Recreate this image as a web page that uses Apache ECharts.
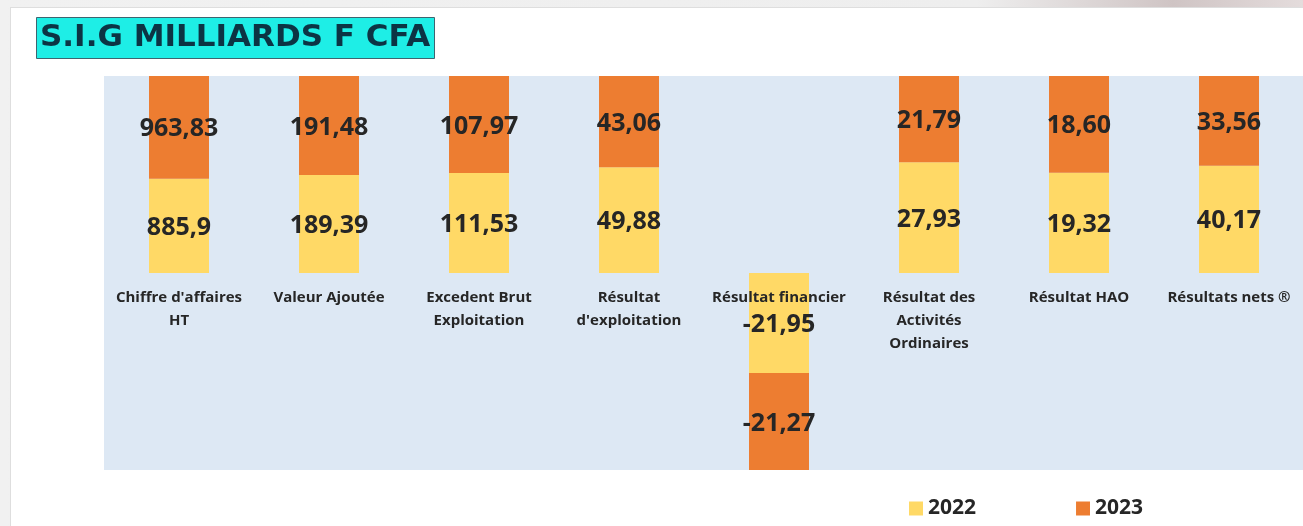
<!DOCTYPE html>
<html>
<head>
<meta charset="utf-8">
<script src="https://cdn.jsdelivr.net/npm/echarts@6/dist/echarts.min.js"></script>
<style>
  html, body { margin: 0; padding: 0; }
  body {
    width: 1303px; height: 526px; overflow: hidden; position: relative;
    background: linear-gradient(to right, #f1f1f1 0%, #eeeeee 75%, #cfc4c4 90%, #e4dcdc 100%);
  }
  #card {
    position: absolute; left: 10px; top: 7px; right: -2px; bottom: -2px;
    background: #fff; border: 1px solid #dedede;
  }
  #main { position: absolute; left: 0; top: 0; width: 1303px; height: 526px; }
</style>
</head>
<body>
<div id="card"></div>
<div id="main"></div>
<script>
// S.I.G en milliards F CFA
var categories = [
  'Chiffre d\'affaires\nHT',
  'Valeur Ajoutée',
  'Excedent Brut\nExploitation',
  'Résultat\nd\'exploitation',
  'Résultat financier',
  'Résultat des\nActivités\nOrdinaires',
  'Résultat HAO',
  'Résultats nets ®'
]
var values2022 = ['885,9', '189,39', '111,53', '49,88', '-21,95', '27,93', '19,32', '40,17']
var values2023 = ['963,83', '191,48', '107,97', '43,06', '-21,27', '21,79', '18,60', '33,56']

var colorSet = {
  y2022: '#ffd966',
  y2023: '#ed7d31',
  text: '#262626',
}

function num(s) {
  return parseFloat(s.replace(',', '.'))
}

// 100% empilé : part de chaque année dans le total de la catégorie
function share(list, i) {
  var a = num(values2022[i])
  var b = num(values2023[i])
  return num(list[i]) / (Math.abs(a) + Math.abs(b))
}

function buildData(list) {
  return list.map(function (s, i) {
    return { value: share(list, i), label: s }
  })
}

var chart = echarts.init(document.getElementById('main'), null, { renderer: 'canvas' })

var labelStyle = {
  show: true,
  position: 'inside',
  offset: [0, 2],
  fontFamily: 'Open Sans',
  fontWeight: 'bold',
  fontSize: 25,
  color: colorSet.text,
  formatter: function (p) {
    return p.data.label
  },
}

var option = {
  animation: false,
  title: {
    text: 'S.I.G MILLIARDS F CFA',
    left: 36,
    top: 18,
    padding: [5, 5, 5, 4],
    backgroundColor: '#1eeee6',
    borderColor: '#3d6570',
    borderWidth: 1,
    textStyle: {
      fontFamily: 'DejaVu Sans',
      fontWeight: 'bold',
      fontSize: 31,
      lineHeight: 30,
      color: '#0c3444',
    },
  },
  legend: {
    left: 904,
    top: 493,
    itemWidth: 14,
    itemHeight: 14,
    itemGap: 100,
    icon: 'rect',
    textStyle: {
      fontFamily: 'Open Sans',
      fontWeight: 'bold',
      fontSize: 21,
      color: colorSet.text,
    },
    data: ['2022', '2023'],
  },
  grid: {
    show: true,
    backgroundColor: '#dde8f4',
    borderWidth: 0,
    left: 104,
    top: 76,
    width: 1200,
    bottom: 56,
    containLabel: false,
    outerBoundsMode: 'none',
  },
  xAxis: {
    type: 'category',
    data: categories,
    z: 5,
    offset: -197, // axe remonté sur la ligne du zéro
    axisLine: { show: false, onZero: false },
    axisTick: { show: false },
    axisLabel: {
      interval: 0,
      margin: 13,
      fontFamily: 'Open Sans',
      fontWeight: 'bold',
      fontSize: 15,
      lineHeight: 23,
      color: colorSet.text,
    },
  },
  yAxis: {
    type: 'value',
    min: -1,
    max: 1,
    show: false,
    splitLine: { show: false },
  },
  series: [
    {
      name: '2022',
      type: 'bar',
      stack: 'total',
      barWidth: 60,
      itemStyle: { color: colorSet.y2022 },
      label: labelStyle,
      data: buildData(values2022),
    },
    {
      name: '2023',
      type: 'bar',
      stack: 'total',
      barWidth: 60,
      itemStyle: { color: colorSet.y2023 },
      label: labelStyle,
      data: buildData(values2023),
    },
  ],
}

chart.setOption(option)
</script>
</body>
</html>
